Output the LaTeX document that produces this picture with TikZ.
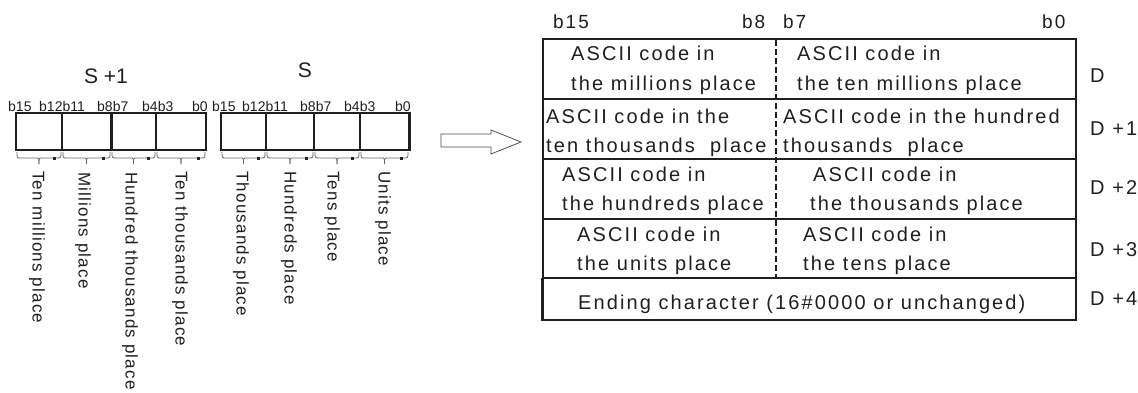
\documentclass[tikz,border=0pt]{standalone}
\usepackage{fontspec}
\setmainfont{Liberation Sans}
\newfontfamily\tfont[LetterSpace=10.5]{Liberation Sans}
\newfontfamily\vfont[LetterSpace=7]{Liberation Sans}
\begin{document}
\begin{tikzpicture}[x=1pt,y=-1pt,
  ink/.style={draw=black!88},
  cell/.style={anchor=base west,inner sep=0,font=\tfont\fontsize{20}{22}\selectfont,text=black!88},
  bitlab/.style={anchor=base west,inner sep=0,font=\fontsize{14}{16}\selectfont,text=black!88},
  toplab/.style={anchor=base west,inner sep=0,font=\tfont\fontsize{19}{21}\selectfont,text=black!88},
  vlab/.style={rotate=-90,anchor=west,inner sep=0,font=\vfont\fontsize{17}{19}\selectfont,text=black!88},
  brc/.style={draw=black!60,line width=0.8pt},
  brmark/.style={fill=black!85}
]
\useasboundingbox (0,0) rectangle (1138,392);

% ---------- left: S+1 and S ----------
\node[anchor=base,inner sep=0,font=\fontsize{21}{23}\selectfont,text=black!88] (sp1) at (106,83) {S +1};
\node[anchor=base,inner sep=0,font=\fontsize{21}{23}\selectfont,text=black!88] (s) at (305,77) {S};

\foreach \x/\t/\n in {8/b15/a1,39/b12b11/a2,97/b8b7/a3,142/b4b3/a4,192/b0/a5,
                      212/b15/c1,242/b12b11/c2,300/b8b7/c3,344/b4b3/c4,395/b0/c5}
  \node[bitlab] (\n) at (\x,111) {\t};

% S+1 register
\draw[ink,line width=1.4pt] (16,113) rectangle (206,150);
\draw[ink,line width=1.4pt] (62,113) -- (62,150);
\draw[ink,line width=3pt] (111,113) -- (111,150);
\draw[ink,line width=1.4pt] (156,113) -- (156,150);
\draw[ink,line width=2pt] (16,150) -- (206,150);
% S register
\draw[ink,line width=1.4pt] (221,113) rectangle (409,150);
\draw[ink,line width=1.4pt] (266,113) -- (266,150);
\draw[ink,line width=1.4pt] (314,113) -- (314,150);
\draw[ink,line width=1.4pt] (360,113) -- (360,150);
\draw[ink,line width=3pt] (409,112) -- (409,151);
\draw[ink,line width=2.5pt] (220,150) -- (410,150);

% braces
\foreach \a/\b in {17/61,63/110,112/155,157/205,222/265,267/313,315/359,361/408}{
  \pgfmathsetmacro{\m}{(\a+\b)/2}
  \draw[brc] (\a,152) .. controls (\a,158) .. (\a+4,158) -- (\m-3,158)
             .. controls (\m,158) .. (\m,164);
  \draw[brc] (\m,164) .. controls (\m,158) .. (\m+3,158) -- (\b-4,158)
             .. controls (\b,158) .. (\b,152);
  \fill[brmark] (\b-8,156.5) rectangle (\b-5,159.5);
}

% rotated labels
\node[vlab] (l1) at (37,171) {Ten millions place};
\node[vlab] (l2) at (83,172) {Millions place};
\node[vlab] (l3) at (130,172) {Hundred thousands place};
\node[vlab] (l4) at (180,171) {Ten thousands place};
\node[vlab] (l5) at (241,171) {Thousands place};
\node[vlab] (l6) at (289,171) {Hundreds place};
\node[vlab] (l7) at (332,171) {Tens place};
\node[vlab] (l8) at (383,171) {Units place};

% ---------- hollow arrow ----------
\draw[draw=black!70,line width=0.8pt] (441,134) -- (491,134) -- (491,130) -- (521,142)
  -- (491,154) -- (491,147) -- (441,147) -- cycle;

% ---------- right table ----------
\node[toplab] (tb15) at (553,28) {b15};
\node[toplab] (tb8) at (742,28) {b8};
\node[toplab] (tb7) at (783,28) {b7};
\node[toplab] (tb0) at (1042,28) {b0};

\draw[ink,line width=1.5pt] (543,39) rectangle (1076,320);
\foreach \y in {99,159,219,278}
  \draw[ink,line width=1.5pt] (543,\y) -- (1076,\y);
\draw[ink,line width=3pt] (542,278) -- (542,321);
\draw[ink,line width=1.5pt,dash pattern=on 6pt off 3pt] (776,40) -- (776,278);

% row 1
\node[cell] (r1a) at (571,60) {ASCII code in};
\node[cell] (r1b) at (571,90) {the millions place};
\node[cell] (r1c) at (797,60) {ASCII code in};
\node[cell] (r1d) at (797,90) {the ten millions place};
% row 2
\node[cell] (r2a) at (546,123) {ASCII code in the};
\node[cell] (r2b) at (546,152) {ten thousands\ \ place};
\node[cell] (r2c) at (783,123) {ASCII code in the hundred};
\node[cell] (r2d) at (783,152) {thousands\ \ place};
% row 3
\node[cell] (r3a) at (562,181) {ASCII code in};
\node[cell] (r3b) at (562,210) {the hundreds place};
\node[cell] (r3c) at (813,181) {ASCII code in};
\node[cell] (r3d) at (810,210) {the thousands place};
% row 4
\node[cell] (r4a) at (577,241) {ASCII code in};
\node[cell] (r4b) at (577,270) {the units place};
\node[cell] (r4c) at (803,241) {ASCII code in};
\node[cell] (r4d) at (803,270) {the tens place};
% row 5
\node[cell] (r5) at (578,309) {Ending character (16\#0000 or unchanged)};

% D labels
\node[cell] (d0) at (1090,82) {D};
\node[cell] (d1) at (1090,135) {D +1};
\node[cell] (d2) at (1090,194) {D +2};
\node[cell] (d3) at (1090,256) {D +3};
\node[cell] (d4) at (1090,305) {D +4};
\end{tikzpicture}
\end{document}
